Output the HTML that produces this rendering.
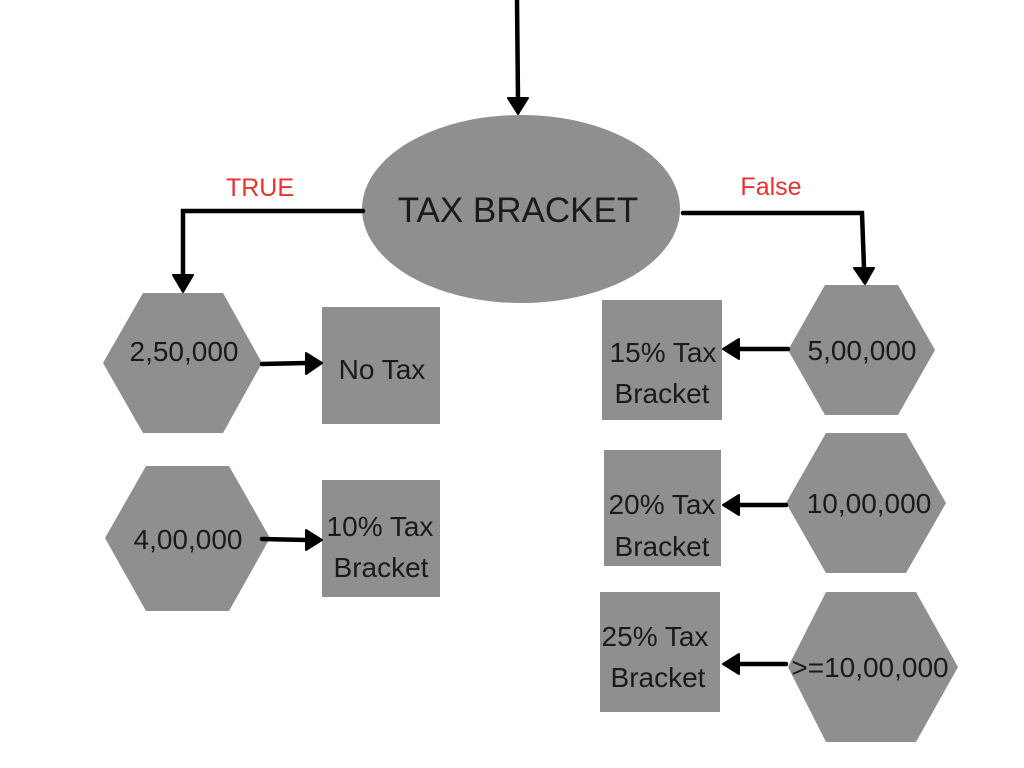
<!DOCTYPE html>
<html><head><meta charset="utf-8"><style>
html,body{margin:0;padding:0;background:#fff;width:1024px;height:768px;overflow:hidden}
svg{display:block}
text{font-family:"Liberation Sans",sans-serif;fill:#1a1a1a}
</style></head><body>
<svg width="1024" height="768" viewBox="0 0 1024 768">
<g fill="#8f8f8f">
<ellipse cx="521" cy="209" rx="159" ry="94"/>
<polygon points="103,363 143,293 223,293 262,363 223,433 143,433"/>
<polygon points="105,538 146,466 229,466 270,538 229,611 146,611"/>
<polygon points="788,350 825,285 898,285 935,350 898,415 825,415"/>
<polygon points="786,503 826,433 906,433 946,503 906,573 826,573"/>
<polygon points="788,667 826,592 916,592 958,667 916,742 826,742"/>
<rect x="322" y="307" width="118" height="117"/>
<rect x="322" y="480" width="118" height="117"/>
<rect x="602" y="300" width="120" height="120"/>
<rect x="604" y="450" width="117" height="116"/>
<rect x="600" y="592" width="120" height="120"/>
</g>
<g stroke="#000" stroke-width="4.5" fill="none" stroke-linecap="round">
<path d="M517,0 L518,100"/>
<path d="M363,211 L183,211 L183,276"/>
<path d="M683,213 L862,213 L864,268"/>
<path d="M262,364 L306,363"/>
<path d="M262,539 L306,540"/>
<path d="M788,349 L738,349"/>
<path d="M786,505 L738,505"/>
<path d="M786,664 L738,664"/>
</g>
<g fill="#000" stroke="#000" stroke-width="2" stroke-linejoin="round">
<polygon points="508,98 528,98 518,114"/>
<polygon points="173,275 193,275 183,292"/>
<polygon points="854,268 874,268 865,284"/>
<polygon points="306,353 306,374 322,363"/>
<polygon points="306,530 306,550 322,540"/>
<polygon points="739,339 739,359 723,349"/>
<polygon points="739,495 739,515 723,505"/>
<polygon points="739,654 739,674 723,664"/>
</g>
<text x="260" y="196" font-size="25" style="fill:#e8322f" text-anchor="middle">TRUE</text>
<text x="771" y="195" font-size="25" style="fill:#e8322f" text-anchor="middle">False</text>
<text x="518" y="222" font-size="35" text-anchor="middle">TAX BRACKET</text>
<g font-size="28" text-anchor="middle">
<text x="184" y="361">2,50,000</text>
<text x="188" y="549">4,00,000</text>
<text x="862" y="360">5,00,000</text>
<text x="869" y="513">10,00,000</text>
<text x="870" y="677">&gt;=10,00,000</text>
<text x="382" y="379">No Tax</text>
<text x="380" y="536">10% Tax</text>
<text x="381" y="577">Bracket</text>
<text x="663" y="362">15% Tax</text>
<text x="662" y="403">Bracket</text>
<text x="662" y="514">20% Tax</text>
<text x="662" y="556">Bracket</text>
<text x="655" y="646">25% Tax</text>
<text x="658" y="687">Bracket</text>
</g>
</svg>
</body></html>
